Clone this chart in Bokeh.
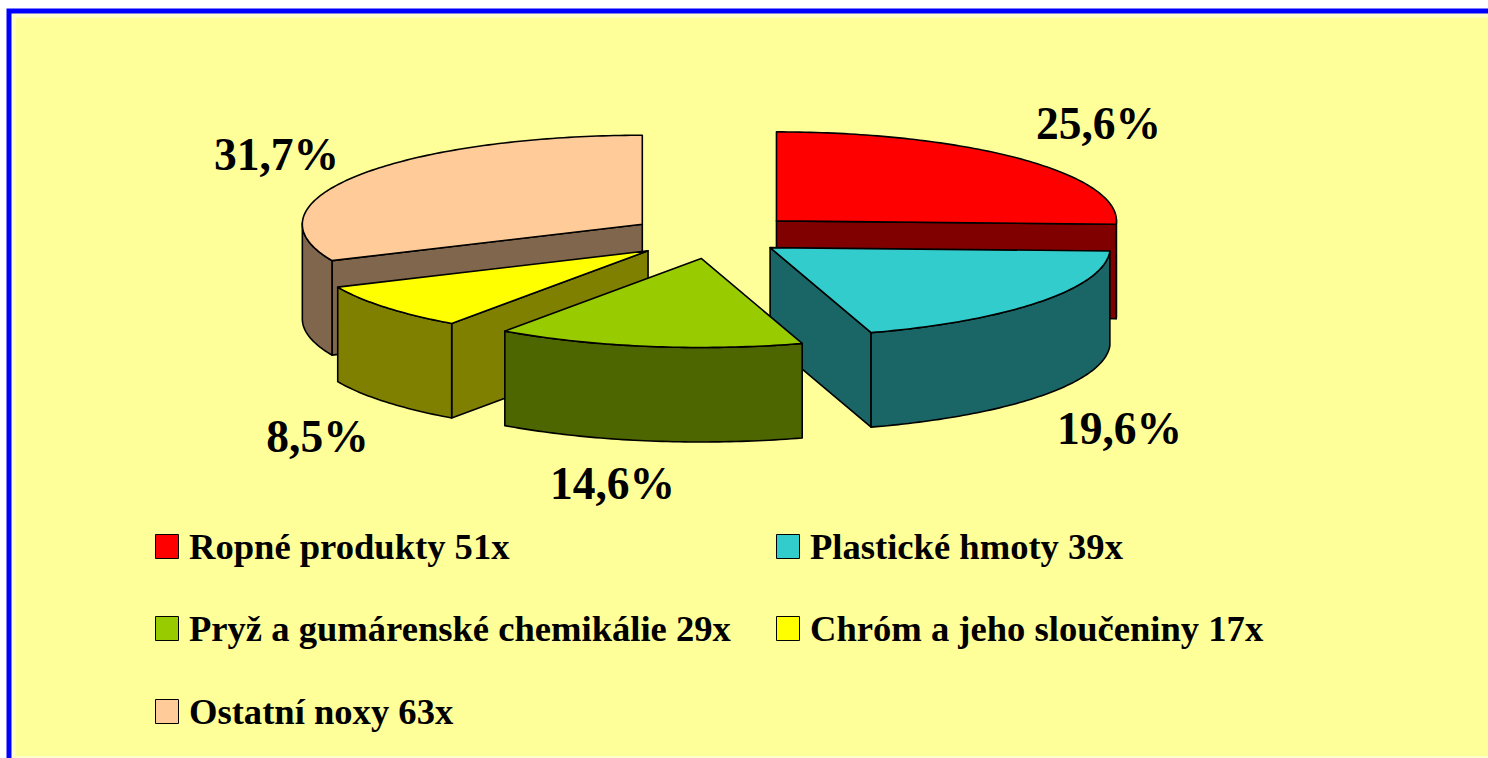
import math
from bokeh.plotting import figure
from bokeh.embed import file_html
from bokeh.resources import INLINE
from bokeh.core.properties import value

# data
categories = ["Ropné produkty", "Plastické hmoty", "Pryž a gumárenské chemikálie", "Chróm a jeho sloučeniny", "Ostatní noxy"]
counts = [51, 39, 29, 17, 63]
percents = [25.6, 19.6, 14.6, 8.5, 31.7]
percent_labels = ["25,6%", "19,6%", "14,6%", "8,5%", "31,7%"]

# style
top_colors = ["#FF0000", "#33CCCC", "#99CC00", "#FFFF00", "#FFCC99"]
side_colors = ["#800000", "#1A6666", "#4D6600", "#808000", "#80664D"]
explode = [0.253, 0.206, 0.25, 0.253, 0.253]
draw_order = [4, 0, 1, 3, 2]
CX, CY, RX, RY, DEPTH = 714, 236, 340, 89, 94.5
FONT = value("Liberation Serif")
BG = "#FFFF99"

label_pos = [(1098, 123), (1119, 428), (612, 483), (317, 436), (276, 154)]
legend_pos = [(155, 534), (776, 534), (155, 616), (776, 616), (155, 699)]
SWATCH = 23

p = figure(width=1488, height=758, x_range=(0, 1488), y_range=(758, 0),
           output_backend="svg", toolbar_location=None, min_border=0,
           background_fill_color="#FFFFFF",
           border_fill_color="#FFFFFF", outline_line_color=None)
p.axis.visible = False
p.grid.visible = False

# frame
p.quad(left=6, right=1488, top=8, bottom=758, fill_color="#0000FF", line_color=None)
p.quad(left=11, right=1488, top=13, bottom=758, fill_color="#FFFFCC", line_color=None)
p.quad(left=15, right=1488, top=17, bottom=755.5, fill_color=BG, line_color=None)

# pie
LW = 1.6
def face(xs, ys, color):
    p.patch(xs, ys, fill_color=color, line_color="#000000", line_width=LW, line_join="round")

edges = [0.0]
for v in percents:
    edges.append(edges[-1] + v / sum(percents) * 360)

for i in draw_order:
    a0, a1 = math.radians(edges[i]), math.radians(edges[i + 1])
    mid = (a0 + a1) / 2
    ax = CX + RX * explode[i] * math.sin(mid)
    ay = CY - RY * explode[i] * math.cos(mid)
    n = max(8, int((a1 - a0) * 60))
    ang = [a0 + (a1 - a0) * k / n for k in range(n + 1)]
    rx = [ax + RX * math.sin(t) for t in ang]
    ry = [ay - RY * math.cos(t) for t in ang]
    # cut faces: only those turned towards the viewer
    if math.sin(a0) < -1e-6:
        face([ax, rx[0], rx[0], ax], [ay, ry[0], ry[0] + DEPTH, ay + DEPTH], side_colors[i])
    if math.sin(a1) > 1e-6:
        face([ax, rx[n], rx[n], ax], [ay, ry[n], ry[n] + DEPTH, ay + DEPTH], side_colors[i])
    # rim: front half of the ellipse
    fx = [x for x, t in zip(rx, ang) if math.cos(t) <= 0.02]
    fy = [y for y, t in zip(ry, ang) if math.cos(t) <= 0.02]
    if fx:
        face(fx + fx[::-1], fy + [y + DEPTH for y in fy[::-1]], side_colors[i])
    # top
    face([ax] + rx, [ay] + ry, top_colors[i])

# percent labels
for (x, y), t in zip(label_pos, percent_labels):
    p.text([x], [y], text=[t], text_font=FONT, text_font_style="bold", text_font_size="45.5px",
           text_align="center", text_baseline="alphabetic", text_color="#000000")

# legend
for (x, y), name, n, c in zip(legend_pos, categories, counts, top_colors):
    p.quad(left=x, right=x + SWATCH, top=y, bottom=y + SWATCH + 1, fill_color=c,
           line_color="#000000", line_width=1)
    p.text([x + 33.5], [y + 11.5], text=[f"{name} {n}x"], text_font=FONT, text_font_style="bold",
           text_font_size="36.6px", text_align="left", text_baseline="alphabetic", text_color="#000000")

open("out.html", "w").write(file_html(p, INLINE))
